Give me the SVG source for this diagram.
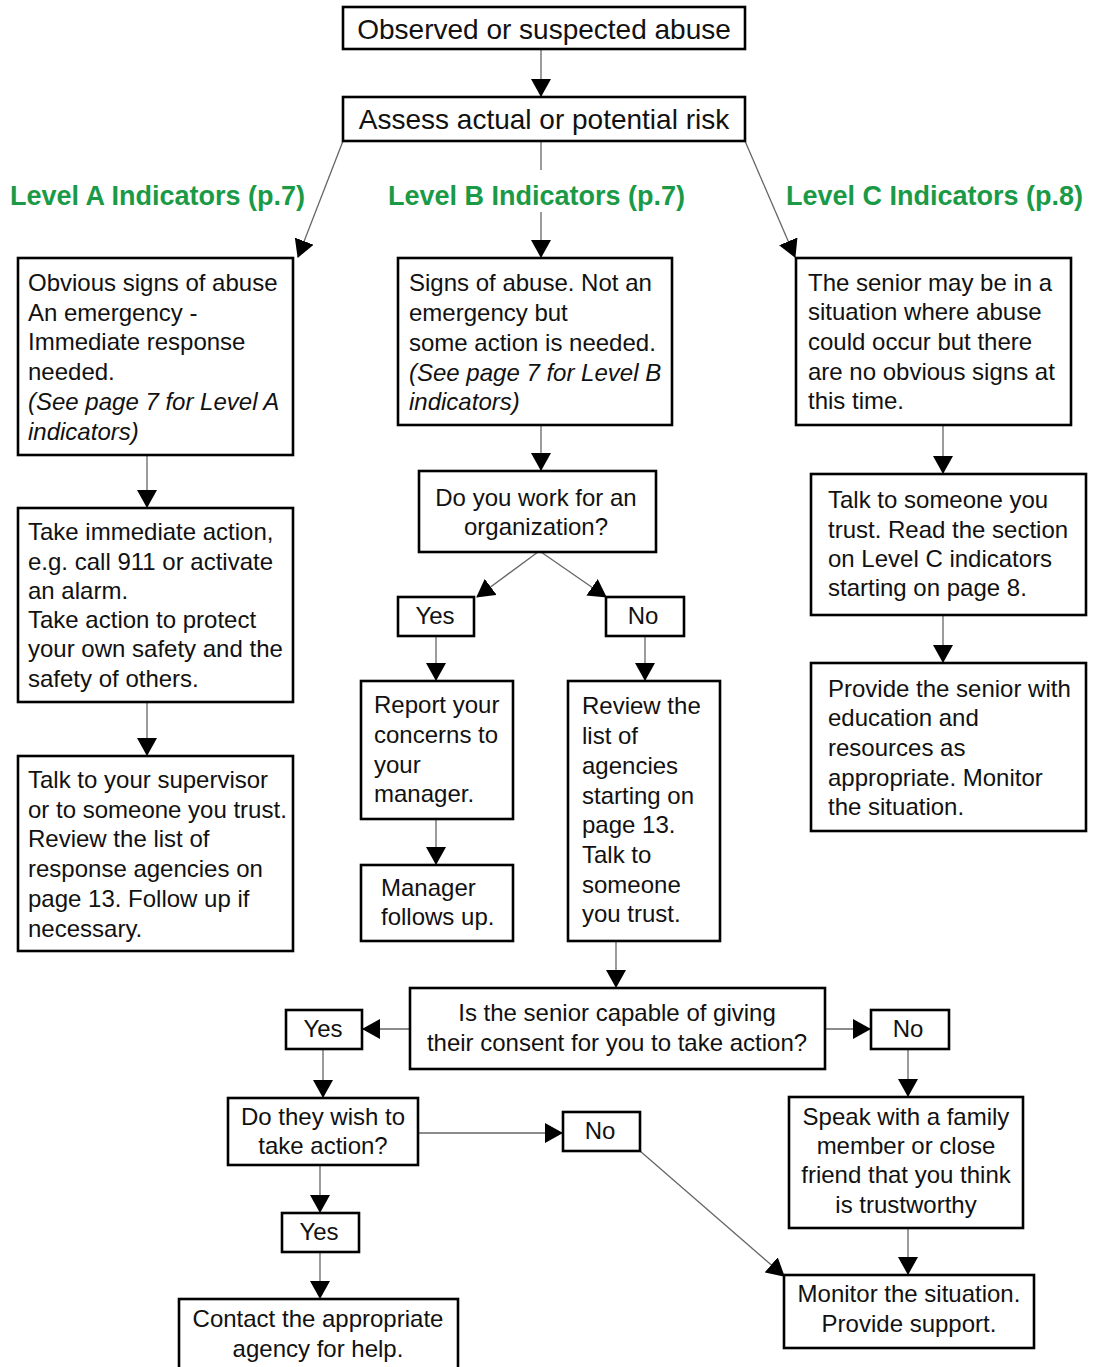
<svg xmlns="http://www.w3.org/2000/svg" width="1093" height="1367" viewBox="0 0 1093 1367">
<style>
.box{fill:#fff;stroke:#000;stroke-width:2.6}
.t{font-family:"Liberation Sans",Arial,sans-serif;font-size:24px;fill:#111}
.big{font-size:28px}
.c{text-anchor:middle}
.i{font-style:italic}
.lvl{font-family:"Liberation Sans",Arial,sans-serif;font-size:27px;font-weight:bold;fill:#1a9a46}
.con{stroke:#666;stroke-width:1.3;fill:none;marker-end:url(#ah)}
.ln{stroke:#666;stroke-width:1.3;fill:none}
</style>
<defs>
<marker id="ah" markerUnits="userSpaceOnUse" markerWidth="18" markerHeight="20" refX="17" refY="10" orient="auto" viewBox="0 0 18 20">
<path d="M0,0 L18,10 L0,20 z" fill="#000"/>
</marker>
</defs>
<rect width="1093" height="1367" fill="#fff"/>

<g id="connectors">
<line class="con" x1="541" y1="49" x2="541" y2="96"/>
<line class="con" x1="343" y1="141" x2="298" y2="257"/>
<line class="ln" x1="541" y1="141" x2="541" y2="170"/>
<line class="con" x1="541" y1="212" x2="541" y2="257"/>
<line class="con" x1="745" y1="141" x2="795" y2="257"/>
<line class="con" x1="147" y1="455" x2="147" y2="507"/>
<line class="con" x1="147" y1="702" x2="147" y2="755"/>
<line class="con" x1="541" y1="425" x2="541" y2="470"/>
<line class="con" x1="538" y1="552" x2="477" y2="597"/>
<line class="con" x1="541" y1="552" x2="606" y2="597"/>
<line class="con" x1="436" y1="636" x2="436" y2="680"/>
<line class="con" x1="645" y1="636" x2="645" y2="680"/>
<line class="con" x1="436" y1="819" x2="436" y2="864"/>
<line class="con" x1="943" y1="425" x2="943" y2="473"/>
<line class="con" x1="943" y1="615" x2="943" y2="662"/>
<line class="con" x1="616" y1="941" x2="616" y2="987"/>
<line class="con" x1="410" y1="1029" x2="363" y2="1029"/>
<line class="con" x1="825" y1="1029" x2="870" y2="1029"/>
<line class="con" x1="323" y1="1049" x2="323" y2="1097"/>
<line class="con" x1="908" y1="1049" x2="908" y2="1096"/>
<line class="con" x1="418" y1="1133" x2="562" y2="1133"/>
<line class="con" x1="320" y1="1165" x2="320" y2="1212"/>
<line class="con" x1="320" y1="1252" x2="320" y2="1298"/>
<line class="con" x1="908" y1="1228" x2="908" y2="1274"/>
<line class="con" x1="640" y1="1151" x2="784" y2="1276"/>
</g>

<g id="labels">
<text class="lvl" x="10" y="205">Level A Indicators (p.7)</text>
<text class="lvl" x="388" y="205">Level B Indicators (p.7)</text>
<text class="lvl" x="786" y="205">Level C Indicators (p.8)</text>
</g>

<g id="n-observed">
<rect class="box" x="343" y="7" width="402" height="42"/>
<text class="t big c" x="544" y="39">Observed or suspected abuse</text>
</g>
<g id="n-assess">
<rect class="box" x="343" y="97" width="402" height="44"/>
<text class="t big c" x="544" y="129">Assess actual or potential risk</text>
</g>

<g id="n-a1">
<rect class="box" x="18" y="258" width="275" height="197"/>
<text class="t" x="28" y="291">Obvious signs of abuse</text>
<text class="t" x="28" y="321">An emergency -</text>
<text class="t" x="28" y="350">Immediate response</text>
<text class="t" x="28" y="380">needed.</text>
<text class="t i" x="28" y="410">(See page 7 for Level A</text>
<text class="t i" x="28" y="440">indicators)</text>
</g>
<g id="n-a2">
<rect class="box" x="18" y="508" width="275" height="194"/>
<text class="t" x="28" y="540">Take immediate action,</text>
<text class="t" x="28" y="570">e.g. call 911 or activate</text>
<text class="t" x="28" y="599">an alarm.</text>
<text class="t" x="28" y="628">Take action to protect</text>
<text class="t" x="28" y="657">your own safety and the</text>
<text class="t" x="28" y="687">safety of others.</text>
</g>
<g id="n-a3">
<rect class="box" x="18" y="756" width="275" height="195"/>
<text class="t" x="28" y="788">Talk to your supervisor</text>
<text class="t" x="28" y="818">or to someone you trust.</text>
<text class="t" x="28" y="847">Review the list of</text>
<text class="t" x="28" y="877">response agencies on</text>
<text class="t" x="28" y="907">page 13. Follow up if</text>
<text class="t" x="28" y="937">necessary.</text>
</g>

<g id="n-b1">
<rect class="box" x="398" y="258" width="274" height="167"/>
<text class="t" x="409" y="291">Signs of abuse. Not an</text>
<text class="t" x="409" y="321">emergency but</text>
<text class="t" x="409" y="351">some action is needed.</text>
<text class="t i" x="409" y="381">(See page 7 for Level B</text>
<text class="t i" x="409" y="410">indicators)</text>
</g>
<g id="n-b2">
<rect class="box" x="419" y="471" width="237" height="81"/>
<text class="t c" x="536" y="506">Do you work for an</text>
<text class="t c" x="536" y="535">organization?</text>
</g>
<g id="n-yes1">
<rect class="box" x="398" y="597" width="76" height="39"/>
<text class="t c" x="435" y="624">Yes</text>
</g>
<g id="n-no1">
<rect class="box" x="606" y="597" width="78" height="39"/>
<text class="t c" x="643" y="624">No</text>
</g>
<g id="n-report">
<rect class="box" x="361" y="681" width="152" height="138"/>
<text class="t" x="374" y="713">Report your</text>
<text class="t" x="374" y="743">concerns to</text>
<text class="t" x="374" y="773">your</text>
<text class="t" x="374" y="802">manager.</text>
</g>
<g id="n-manager">
<rect class="box" x="361" y="865" width="152" height="76"/>
<text class="t" x="381" y="896">Manager</text>
<text class="t" x="381" y="925">follows up.</text>
</g>
<g id="n-review">
<rect class="box" x="568" y="681" width="152" height="260"/>
<text class="t" x="582" y="714">Review the</text>
<text class="t" x="582" y="744">list of</text>
<text class="t" x="582" y="774">agencies</text>
<text class="t" x="582" y="804">starting on</text>
<text class="t" x="582" y="833">page 13.</text>
<text class="t" x="582" y="863">Talk to</text>
<text class="t" x="582" y="893">someone</text>
<text class="t" x="582" y="922">you trust.</text>
</g>

<g id="n-c1">
<rect class="box" x="796" y="258" width="275" height="167"/>
<text class="t" x="808" y="291">The senior may be in a</text>
<text class="t" x="808" y="320">situation where abuse</text>
<text class="t" x="808" y="350">could occur but there</text>
<text class="t" x="808" y="380">are no obvious signs at</text>
<text class="t" x="808" y="409">this time.</text>
</g>
<g id="n-c2">
<rect class="box" x="811" y="474" width="275" height="141"/>
<text class="t" x="828" y="508">Talk to someone you</text>
<text class="t" x="828" y="538">trust. Read the section</text>
<text class="t" x="828" y="567">on Level C indicators</text>
<text class="t" x="828" y="596">starting on page 8.</text>
</g>
<g id="n-c3">
<rect class="box" x="811" y="663" width="275" height="168"/>
<text class="t" x="828" y="697">Provide the senior with</text>
<text class="t" x="828" y="726">education and</text>
<text class="t" x="828" y="756">resources as</text>
<text class="t" x="828" y="786">appropriate. Monitor</text>
<text class="t" x="828" y="815">the situation.</text>
</g>

<g id="n-consent">
<rect class="box" x="410" y="988" width="415" height="81"/>
<text class="t c" x="617" y="1021">Is the senior capable of giving</text>
<text class="t c" x="617" y="1051">their consent for you to take action?</text>
</g>
<g id="n-yes2">
<rect class="box" x="286" y="1010" width="76" height="39"/>
<text class="t c" x="323" y="1037">Yes</text>
</g>
<g id="n-no2">
<rect class="box" x="871" y="1010" width="78" height="39"/>
<text class="t c" x="908" y="1037">No</text>
</g>
<g id="n-wish">
<rect class="box" x="228" y="1098" width="190" height="67"/>
<text class="t c" x="323" y="1125">Do they wish to</text>
<text class="t c" x="323" y="1154">take action?</text>
</g>
<g id="n-no3">
<rect class="box" x="563" y="1112" width="77" height="39"/>
<text class="t c" x="600" y="1139">No</text>
</g>
<g id="n-yes3">
<rect class="box" x="282" y="1213" width="77" height="39"/>
<text class="t c" x="319" y="1240">Yes</text>
</g>
<g id="n-contact">
<rect class="box" x="179" y="1299" width="279" height="75"/>
<text class="t c" x="318" y="1327">Contact the appropriate</text>
<text class="t c" x="318" y="1357">agency for help.</text>
</g>
<g id="n-speak">
<rect class="box" x="789" y="1097" width="234" height="131"/>
<text class="t c" x="906" y="1125">Speak with a family</text>
<text class="t c" x="906" y="1154">member or close</text>
<text class="t c" x="906" y="1183">friend that you think</text>
<text class="t c" x="906" y="1213">is trustworthy</text>
</g>
<g id="n-monitor">
<rect class="box" x="784" y="1275" width="250" height="73"/>
<text class="t c" x="909" y="1302">Monitor the situation.</text>
<text class="t c" x="909" y="1332">Provide support.</text>
</g>
</svg>
